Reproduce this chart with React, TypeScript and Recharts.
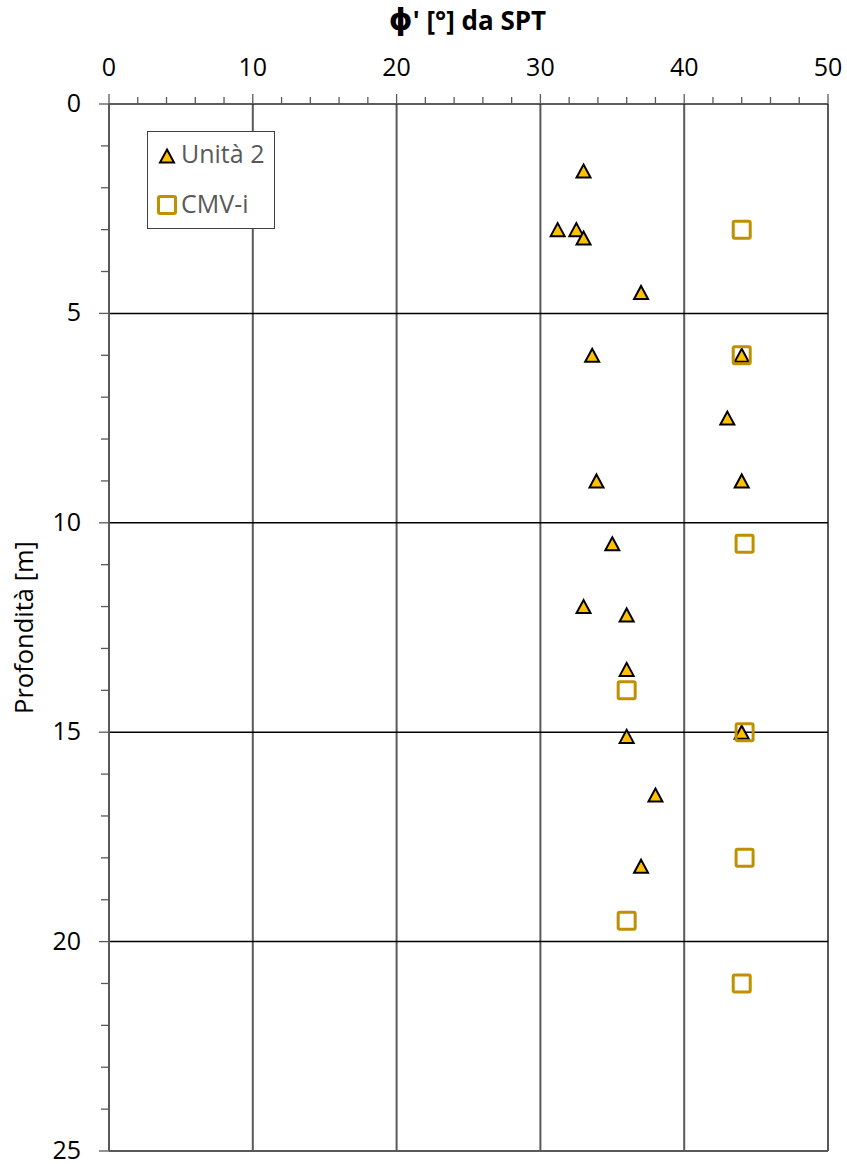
import {
  Label,
  Legend,
  ReferenceLine,
  Scatter,
  ScatterChart,
  XAxis,
  YAxis,
} from "recharts"

// valori (phi' in gradi, profondità in m)
const unitaPhi = [33, 31.2, 32.5, 33, 37, 33.6, 44, 43, 33.9, 44, 35, 33, 36, 36, 44, 36, 38, 37]
const unitaDepth = [1.6, 3.0, 3.0, 3.2, 4.5, 6.0, 6.0, 7.5, 9.0, 9.0, 10.5, 12.0, 12.2, 13.5, 15.0, 15.1, 16.5, 18.2]
const cmvPhi = [44, 44, 44.2, 36, 44.2, 44.2, 36, 44]
const cmvDepth = [3.0, 6.0, 10.5, 14.0, 15.0, 18.0, 19.5, 21.0]

const xTicks = [0, 2, 4, 6, 8, 10, 12, 14, 16, 18, 20, 22, 24, 26, 28, 30, 32, 34, 36, 38, 40, 42, 44, 46, 48, 50]
const yTicks = [0, 1, 2, 3, 4, 5, 6, 7, 8, 9, 10, 11, 12, 13, 14, 15, 16, 17, 18, 19, 20, 21, 22, 23, 24, 25]
const xGrid = [10, 20, 30, 40, 50]
const yGrid = [5, 10, 15, 20]

const unitaData = unitaPhi.map((x, i) => ({ x, y: unitaDepth[i] }))
const cmvData = cmvPhi.map((x, i) => ({ x, y: cmvDepth[i] }))

const FONT = "'Open Sans', Carlito, Calibri, sans-serif"
const GREY = "#595959"
const GOLD = "#FFC000"
const DARK_GOLD = "#BF9000"

const Triangle = (props: any) => {
  const { cx, cy } = props
  if (cx == null || cy == null) return <g />
  return (
    <path
      d={`M${cx},${cy - 6.5}L${cx + 7},${cy + 6.5}L${cx - 7},${cy + 6.5}Z`}
      fill={GOLD}
      stroke="#000"
      strokeWidth={2}
    />
  )
}

const Square = (props: any) => {
  const { cx, cy } = props
  if (cx == null || cy == null) return <g />
  return (
    <rect
      x={cx - 8.5}
      y={cy - 8.5}
      width={17}
      height={17}
      rx={1.5}
      fill="none"
      stroke={DARK_GOLD}
      strokeWidth={3}
    />
  )
}

// tick dell'asse superiore: maggiori ogni 10, minori ogni 2
const TopTick = (props: any) => {
  const { x, y, payload } = props
  const major = payload.value % 10 === 0
  return (
    <g>
      <line x1={x} y1={y} x2={x} y2={y - (major ? 10 : 7)} stroke={GREY} strokeWidth={1.3} />
      {major && (
        <text x={x} y={y - 28} textAnchor="middle" fontSize={25} fontFamily={FONT} fill="#000">
          {payload.value}
        </text>
      )}
    </g>
  )
}

const LeftTick = (props: any) => {
  const { x, y, payload } = props
  const major = payload.value % 5 === 0
  return (
    <g>
      <line x1={x} y1={y} x2={x - (major ? 10 : 8)} y2={y} stroke={GREY} strokeWidth={1.3} />
      {major && (
        <text x={x - 28} y={y + 8} textAnchor="end" fontSize={25} fontFamily={FONT} fill="#000">
          {payload.value}
        </text>
      )}
    </g>
  )
}

const LegendBox = () => (
  <svg width={128} height={98}>
    <rect x={0.5} y={0.5} width={127} height={97} fill="#fff" stroke="#404040" strokeWidth={1} />
    <Triangle cx={20} cy={25} />
    <text x={34} y={32} fontSize={25} fontFamily={FONT} fill={GREY}>
      Unità 2
    </text>
    <Square cx={20} cy={74} />
    <text x={34} y={82} fontSize={25} fontFamily={FONT} fill={GREY}>
      CMV-i
    </text>
  </svg>
)

export default function App() {
  return (
    <div style={{ position: "absolute", left: 0, top: 0, background: "#fff" }}>
      <ScatterChart
        width={847}
        height={1164}
        margin={{ top: 44, right: 19, bottom: 13, left: 49 }}
      >
        <XAxis
          type="number"
          dataKey="x"
          orientation="top"
          domain={[0, 50]}
          ticks={xTicks}
          interval={0}
          height={60}
          tickSize={0}
          tickMargin={0}
          tickLine={false}
          tick={<TopTick />}
          axisLine={{ stroke: "#262626", strokeWidth: 1.5 }}
          allowDataOverflow
        >
          <Label
            content={(p: any) => {
              const vb = p.viewBox || {}
              return (
                <text
                  x={vb.x + vb.width / 2 - 1}
                  y={30}
                  textAnchor="middle"
                  fontSize={26}
                  fontWeight="bold"
                  fontFamily={FONT}
                  fill="#000"
                >
                  <tspan fontSize={30} fontFamily="'DejaVu Sans', sans-serif">ϕ</tspan>
                  ' [°] da SPT
                </text>
              )
            }}
          />
        </XAxis>
        <YAxis
          type="number"
          dataKey="y"
          reversed
          domain={[0, 25]}
          ticks={yTicks}
          interval={0}
          width={60}
          tickSize={0}
          tickMargin={0}
          tickLine={false}
          tick={<LeftTick />}
          axisLine={{ stroke: GREY, strokeWidth: 2 }}
          allowDataOverflow
        >
          <Label
            content={(p: any) => {
              const vb = p.viewBox || {}
              const cy = vb.y + vb.height / 2
              return (
                <text
                  x={33}
                  y={cy}
                  transform={`rotate(-90 33 ${cy})`}
                  textAnchor="middle"
                  fontSize={25.5}
                  fontFamily={FONT}
                  fill="#000"
                >
                  Profondità [m]
                </text>
              )
            }}
          />
        </YAxis>

        {xGrid.map((v) => (
          <ReferenceLine key={`x${v}`} x={v} stroke={GREY} strokeWidth={2} />
        ))}
        {yGrid.map((v) => (
          <ReferenceLine key={`y${v}`} y={v} stroke="#000" strokeWidth={1.5} />
        ))}
        <ReferenceLine y={25} stroke={GREY} strokeWidth={2} />

        <Legend
          layout="vertical"
          align="center"
          verticalAlign="middle"
          content={() => <LegendBox />}
          wrapperStyle={{ left: 147, top: 131, width: 128, height: 98 }}
        />

        <Scatter name="Unità 2" data={unitaData} shape={<Triangle />} isAnimationActive={false} />
        <Scatter name="CMV-i" data={cmvData} shape={<Square />} isAnimationActive={false} />
      </ScatterChart>
    </div>
  )
}
